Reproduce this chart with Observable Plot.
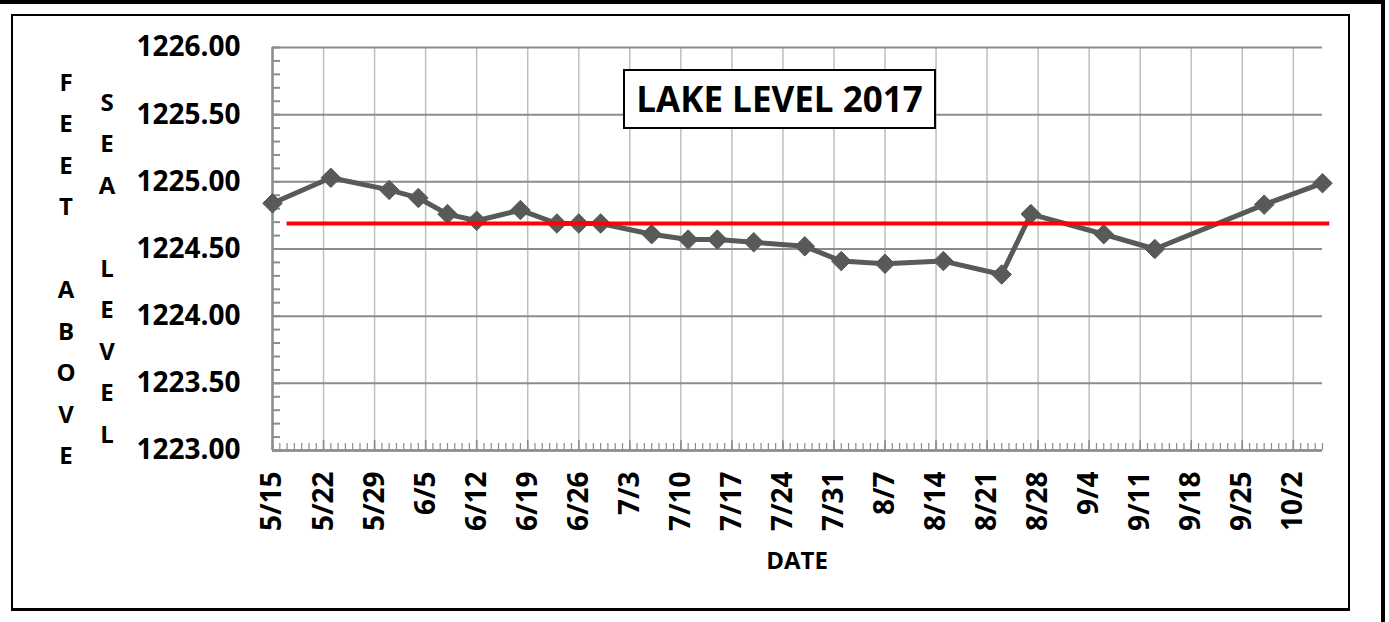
<!DOCTYPE html>
<html>
<head>
<meta charset="utf-8">
<script src="https://cdn.jsdelivr.net/npm/d3@7"></script>
<script src="https://cdn.jsdelivr.net/npm/@observablehq/plot@0.6"></script>
<style>
  html, body { margin: 0; padding: 0; background: #fff; }
  #wrap { position: relative; width: 1389px; height: 622px; overflow: hidden; font-family: "Open Sans", sans-serif; }
  #chart { position: absolute; left: 0; top: 0; }
  .abs { position: absolute; }
  .stack { position: absolute; font-size: 24px; font-weight: 700; line-height: 41.5px; text-align: center; width: 40px; color: #000; white-space: pre; }
</style>
</head>
<body>
<div id="wrap">
  <div id="chart"></div>
  <div class="abs" style="left:0;top:0;width:1385px;height:4px;background:#000"></div>
  <div class="abs" style="left:1381px;top:0;width:4px;height:622px;background:#000"></div>
  <div class="abs" style="left:11px;top:14px;width:1339px;height:597px;box-sizing:border-box;border:2px solid #000;border-bottom-width:3px"></div>
  <div id="title" class="abs" style="left:623px;top:69px;width:313px;height:60px;box-sizing:border-box;border:2px solid #000;background:#fff;font-size:35px;font-weight:700;line-height:56px;text-align:center;color:#000"></div>
  <div id="ylab1" class="stack" style="left:46px;top:60.5px"></div>
  <div id="ylab2" class="stack" style="left:87px;top:80.5px"></div>
  <div id="xlab" class="abs" style="left:697px;top:543px;width:200px;text-align:center;font-size:24px;font-weight:700;color:#000"></div>
</div>
<script>
// ---- data ----
const titleText = "LAKE LEVEL 2017";
const xTitle = "DATE";
const yTitleCol1 = ["F","E","E","T","","A","B","O","V","E"];
const yTitleCol2 = ["S","E","A","","L","E","V","E","L"];

const dates = ["2017-05-15","2017-05-23","2017-05-31","2017-06-04","2017-06-08","2017-06-12",
  "2017-06-18","2017-06-23","2017-06-26","2017-06-29","2017-07-06","2017-07-11","2017-07-15",
  "2017-07-20","2017-07-27","2017-08-01","2017-08-07","2017-08-15","2017-08-23","2017-08-27",
  "2017-09-06","2017-09-13","2017-09-28","2017-10-06"];
const levels = [1224.84,1225.03,1224.94,1224.88,1224.76,1224.71,1224.79,1224.69,1224.69,1224.69,
  1224.61,1224.57,1224.57,1224.55,1224.52,1224.41,1224.39,1224.41,1224.31,1224.76,
  1224.61,1224.50,1224.83,1224.99];

const targetLevel = 1224.69;
const targetStart = "2017-05-17";
const targetEnd = "2017-10-07";

const xTickLabels = ["5/15","5/22","5/29","6/5","6/12","6/19","6/26","7/3","7/10","7/17","7/24",
  "7/31","8/7","8/14","8/21","8/28","9/4","9/11","9/18","9/25","10/2"];
const yTickValues = [1223.0,1223.5,1224.0,1224.5,1225.0,1225.5,1226.0];
const xDomain = ["2017-05-15","2017-10-06"];

// ---- build ----
const parse = d3.utcParse("%Y-%m-%d");
const data = dates.map((d, i) => ({date: parse(d), level: levels[i]}));
const weekly = xTickLabels.map(s => { const [m, d] = s.split("/").map(Number); return new Date(Date.UTC(2017, m - 1, d)); });
const x0 = parse(xDomain[0]), x1 = parse(xDomain[1]);
const daily = d3.utcDay.range(x0, d3.utcDay.offset(x1, 1));
const yMinor = d3.range(0, 31).map(i => 1223 + i * 0.1);
const fmt = d => `${d.getUTCMonth() + 1}/${d.getUTCDate()}`;

document.getElementById("title").textContent = titleText;
document.getElementById("xlab").textContent = xTitle;
document.getElementById("ylab1").textContent = yTitleCol1.join("\n");
document.getElementById("ylab2").textContent = yTitleCol2.join("\n");

const axisGray = "#8c8c8c";
const chart = Plot.plot({
  width: 1389,
  height: 622,
  marginLeft: 272,
  marginRight: 67,
  marginTop: 47,
  marginBottom: 172,
  style: {fontFamily: "Open Sans, sans-serif", background: "transparent", overflow: "visible"},
  x: {type: "utc", domain: [x0, x1]},
  y: {domain: [1223, 1226]},
  marks: [
    Plot.ruleX(weekly, {stroke: "#bfbfbf", strokeWidth: 1.5}),
    Plot.ruleY(yTickValues, {stroke: axisGray, strokeWidth: 2}),
    Plot.axisY({ticks: yMinor, tickSize: 8, dx: 8, tickFormat: () => "", stroke: axisGray, strokeWidth: 2, label: null}),
    Plot.axisX({ticks: daily, tickSize: 7, dy: -7, tickFormat: () => "", stroke: axisGray, strokeWidth: 1.2, label: null}),
    Plot.axisX({ticks: weekly, tickSize: 10, dy: -10, tickFormat: () => "", stroke: axisGray, strokeWidth: 1.5, label: null}),
    Plot.ruleX([x0], {stroke: axisGray, strokeWidth: 2.5}),
    Plot.ruleY([1223], {stroke: axisGray, strokeWidth: 2.5}),
    Plot.axisY({ticks: yTickValues, tickSize: 0, tickPadding: 32, tickFormat: d3.format(".2f"),
      fontSize: 28, fontWeight: "bold", fill: "#000", label: null}),
    Plot.axisX({ticks: weekly, tickSize: 0, tickPadding: 21, tickRotate: -90, tickFormat: fmt,
      fontSize: 28, fontWeight: "bold", fill: "#000", label: null}),
    Plot.line(data, {x: "date", y: "level", stroke: "#595959", strokeWidth: 5, strokeLinejoin: "round"}),
    Plot.dot(data, {x: "date", y: "level", symbol: "diamond2", r: 8.8, fill: "#595959", stroke: "#595959", strokeWidth: 1}),
    Plot.ruleY([targetLevel], {x1: () => parse(targetStart), x2: () => parse(targetEnd), stroke: "#ff0000", strokeWidth: 4})
  ]
});
document.getElementById("chart").appendChild(chart);
</script>
</body>
</html>
